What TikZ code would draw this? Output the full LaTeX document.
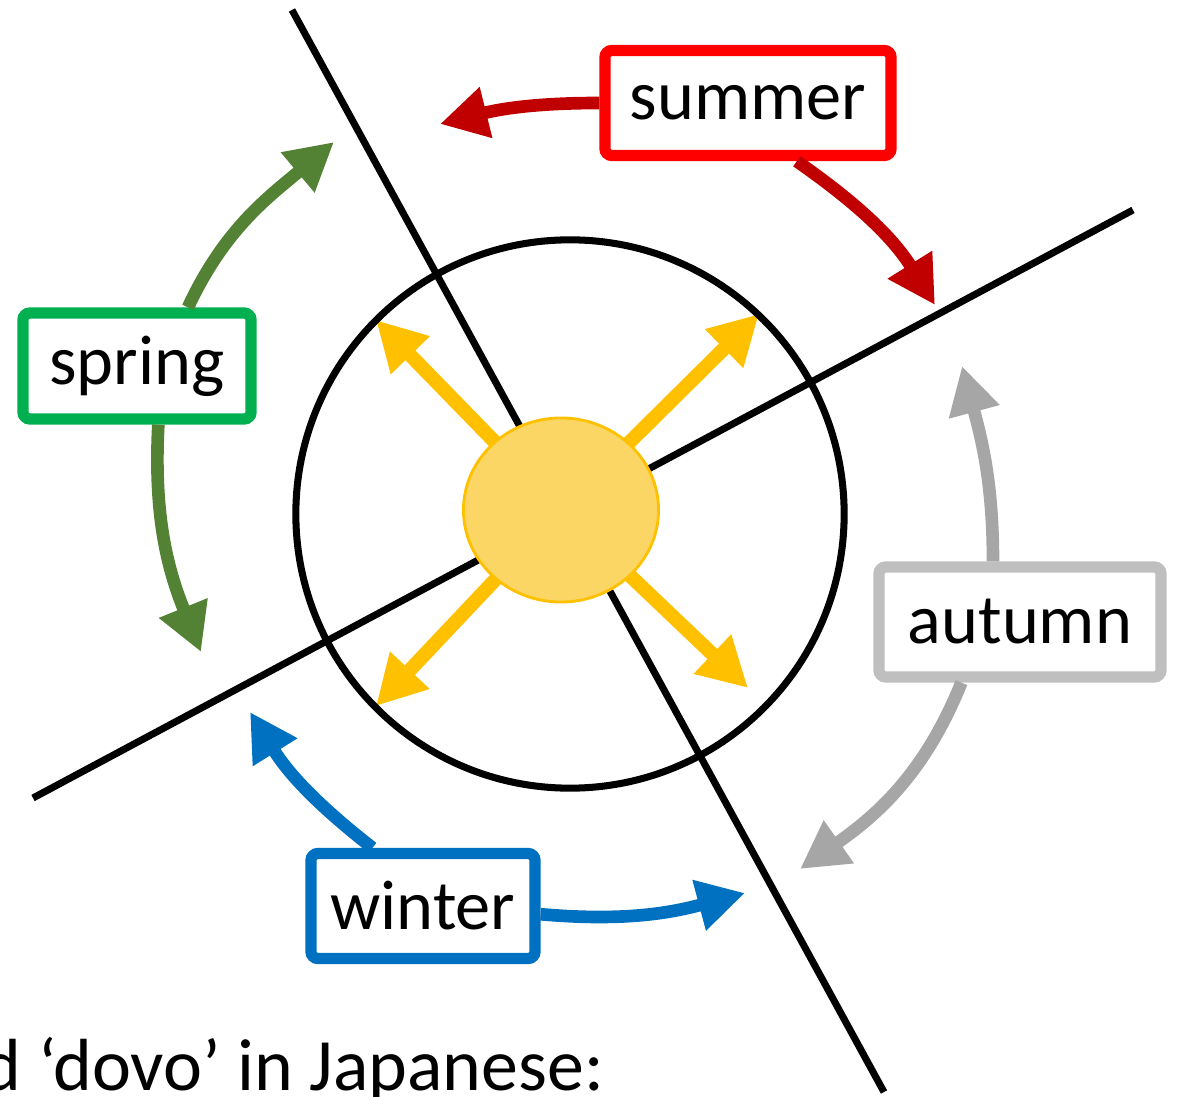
\documentclass[tikz,border=0pt]{standalone}
\usepackage{fontspec}
\setmainfont{Carlito}
\usetikzlibrary{arrows.meta,backgrounds,shapes.geometric}

\definecolor{sumbox}{HTML}{FF0000}
\definecolor{sumarr}{HTML}{C00000}
\definecolor{sprbox}{HTML}{00B050}
\definecolor{sprarr}{HTML}{548235}
\definecolor{autbox}{HTML}{BFBFBF}
\definecolor{autarr}{HTML}{A6A6A6}
\definecolor{winbox}{HTML}{0070C0}
\definecolor{sunedge}{HTML}{FFC000}
\definecolor{sunfill}{HTML}{FCD664}

\tikzset{
  season/.style={draw=#1, line width=3.2pt, rounded corners=2pt, fill=white,
    inner sep=0pt, minimum height=1.05cm, font=\fontsize{20}{24}\selectfont},
  turn/.style={draw=#1, line width=3.6pt, -{Triangle[width=14pt,length=13.5pt]}},
  ray/.style={draw=sunedge, line width=4pt, -{Triangle[width=14.5pt,length=14pt]}},
  axis/.style={line width=2pt},
}

\begin{document}
\begin{tikzpicture}[x=0.01cm,y=-0.01cm]
  \useasboundingbox (0,0) rectangle (1178,1097);
  \clip (0,0) rectangle (1178,1097);
  % orbit
  \draw[line width=2pt] (570,514) circle (2.74cm);
  % axes
  \coordinate (a1) at (292,10);
  \coordinate (a2) at (884,1092);
  \coordinate (b1) at (33,798);
  \coordinate (b2) at (1133,210);
  \draw[axis] (a1) -- (a2);
  \draw[axis] (b1) -- (b2);
  % sun
  \node[ellipse, draw=sunedge, fill=sunfill, line width=0.8pt,
        minimum width=1.95cm, minimum height=1.84cm] (sun) at (561,510) {};
  \coordinate (nw) at (376,320);
  \coordinate (ne) at (759,314);
  \coordinate (sw) at (376,706);
  \coordinate (se) at (748,688);
  \begin{pgfonlayer}{background}
    \draw[ray] (sun.center) -- (nw);
    \draw[ray] (sun.center) -- (ne);
    \draw[ray] (sun.center) -- (sw);
    \draw[ray] (sun.center) -- (se);
  \end{pgfonlayer}
  % seasons
  \node[season=sumbox, minimum width=2.86cm] (summer) at (748,103) {summer};
  \node[season=sprbox, minimum width=2.28cm, minimum height=1.06cm] (spring) at (137,366) {spring};
  \node[season=autbox, minimum width=2.82cm, minimum height=1.10cm] (autumn) at (1020,622) {autumn};
  \node[season=winbox, minimum width=2.24cm] (winter) at (423,906) {winter};
  % arrow ends
  \coordinate (sum1) at (440,124);
  \coordinate (sum2) at (935,305);
  \coordinate (spr1) at (334,142);
  \coordinate (spr2) at (201,652);
  \coordinate (aut1) at (962,366);
  \coordinate (aut2) at (800,869);
  \coordinate (win1) at (250,712);
  \coordinate (win2) at (745,893);
  \draw[turn=sumarr] (summer.west) to[out=180, in=14] (sum1);
  \draw[turn=sumarr] (summer.-50) to[out=-35, in=122] (sum2);
  \draw[turn=sprarr] (spring.49) to[out=65, in=220] (spr1);
  \draw[turn=sprarr] (spring.-70) to[out=-93, in=112] (spr2);
  \draw[turn=autarr] (autumn.114) to[out=90, in=-75] (aut1);
  \draw[turn=autarr] (autumn.226) to[out=-112, in=35] (aut2);
  \draw[turn=winbox] (winter.131) to[out=142, in=-58] (win1);
  \draw[turn=winbox] (winter.-4) to[out=-5, in=195] (win2);
  % caption
  \node[anchor=base west, inner sep=0pt, font=\fontsize{21}{25}\selectfont]
    (cap) at (-18,1090) {d ‘dovo’ in Japanese:};
\end{tikzpicture}
\end{document}
